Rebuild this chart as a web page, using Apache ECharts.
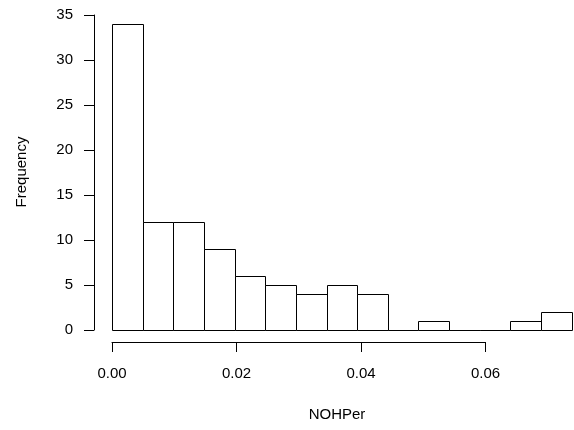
<!DOCTYPE html>
<html><head><meta charset="utf-8">
<script src="https://cdn.jsdelivr.net/npm/echarts@6/dist/echarts.min.js"></script>
<style>html,body{margin:0;padding:0;background:#fff}#c{width:574px;height:430px}</style>
</head><body><div id="c"></div>
<script>
const binStarts = [0.000,0.005,0.010,0.015,0.020,0.025,0.030,0.035,0.040,0.045,0.050,0.055,0.060,0.065,0.070];
const binWidth = 0.005;
const counts = [34,12,12,9,6,5,4,5,4,0,1,0,0,1,2];
const xTicks = [0, 0.02, 0.04, 0.06];
const yTicks = [0,5,10,15,20,25,30,35];
const xLabel = 'NOHPer';
const yLabel = 'Frequency';

const FONT = "'Liberation Sans', Arial, Helvetica, sans-serif";
const data = binStarts.map((s,i)=>[s, s+binWidth, counts[i]]);
const chart = echarts.init(document.getElementById('c'), null, {renderer:'canvas'});
chart.setOption({
  animation:false,
  backgroundColor:'#fff',
  grid:[
    {left:112, right:2.3, top:15, bottom:100},
    {left:112, right:88.5, top:15, bottom:100}
  ],
  xAxis:[
    {gridIndex:0, type:'value', min:0, max:0.075, show:false},
    {gridIndex:1, type:'value', min:xTicks[0], max:xTicks[xTicks.length-1], interval:0.02, offset:12, position:'bottom',
     axisLine:{show:true, onZero:false, lineStyle:{color:'#000', width:1}},
     axisTick:{show:true, length:10, lineStyle:{color:'#000', width:1}},
     axisLabel:{color:'#000', fontSize:15, fontFamily:FONT, margin:24, formatter:v=>v.toFixed(2)},
     splitLine:{show:false}}
  ],
  yAxis:[
    {gridIndex:0, type:'value', min:yTicks[0], max:yTicks[yTicks.length-1], interval:5, offset:18, position:'left',
     axisLine:{show:true, onZero:false, lineStyle:{color:'#000', width:1}},
     axisTick:{show:true, length:10, lineStyle:{color:'#000', width:1}},
     axisLabel:{color:'#000', fontSize:15, fontFamily:FONT, margin:21},
     splitLine:{show:false}},
    {gridIndex:1, type:'value', min:0, max:35, show:false}
  ],
  graphic:[
    {type:'text', x:337, y:415, style:{text:xLabel, font:'15px '+FONT, fill:'#000', textAlign:'center', textVerticalAlign:'middle'}},
    {type:'text', x:22, y:172, rotation:Math.PI/2, style:{text:yLabel, font:'15px '+FONT, fill:'#000', textAlign:'center', textVerticalAlign:'middle'}}
  ],
  series:[{
    type:'custom', xAxisIndex:0, yAxisIndex:0, data:data,
    renderItem:function(params, api){
      const p0 = api.coord([api.value(0), 0]);
      const p1 = api.coord([api.value(1), api.value(2)]);
      const x0 = Math.round(p0[0])+0.5, x1 = Math.round(p1[0])+0.5;
      const yb = Math.round(p0[1])+0.5, yt = Math.round(p1[1])+0.5;
      return {type:'rect', shape:{x:x0, y:yt, width:x1-x0, height:yb-yt},
        style:{fill:'#fff', stroke:'#000', lineWidth:1}};
    }
  }]
});
</script></body></html>
